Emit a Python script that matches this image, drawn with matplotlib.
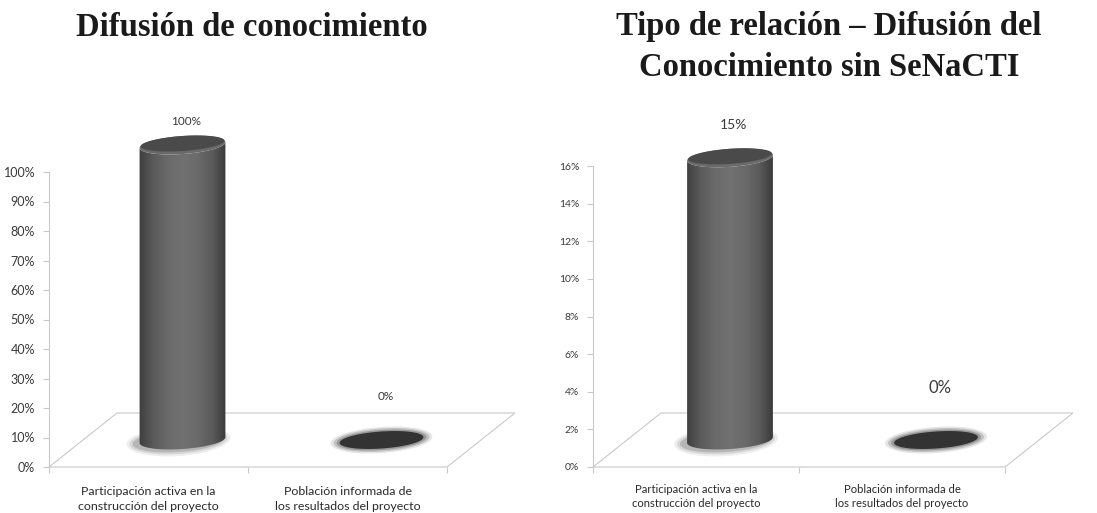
import numpy as np
import matplotlib.pyplot as plt
from matplotlib.colors import LinearSegmentedColormap
from matplotlib.patches import Polygon
from matplotlib.ticker import FuncFormatter, MultipleLocator, FixedLocator

# categories and values for both panels
categorias = ['Participación activa en la\nconstrucción del proyecto',
              'Población informada de\nlos resultados del proyecto']
difusion = [1.00, 0.00]
relacion_sin_senacti = [0.15, 0.00]

titulo_izq = 'Difusión de conocimiento'
titulo_der = 'Tipo de relación – Difusión del\nConocimiento sin SeNaCTI'

W, H = 1097, 513
fig = plt.figure(figsize=(W / 100, H / 100), dpi=100)
plt.rcParams['font.family'] = ['Lato', 'DejaVu Sans']

GRID = '#c9c9c9'
DEPTH = (68, 54)  # floor depth in pixels (right, up)
TILT = 4          # slight tilt of the ellipses, degrees

body_cmap = LinearSegmentedColormap.from_list(
    'cil', ['#3c3c3c', '#5a5a5a', '#6a6a6a', '#717171', '#6a6a6a', '#5a5a5a', '#363636'])


def panel(box, valores, ymax, ystep, tick_fs, cat_fs, val_fs, label_pad, cat_pad, cat_ls):
    x0, x1, y0, ytop = box
    ax = fig.add_axes([x0 / W, (H - y0) / H, (x1 - x0) / W, (y0 - ytop) / H])
    n = len(valores)
    ax.set_xlim(0, n)
    ax.set_ylim(0, ymax)
    ax.patch.set_alpha(0)

    ppx = (x1 - x0) / n
    ppy = (y0 - ytop) / ymax
    px = lambda p: p / ppx
    py = lambda p: p / ppy

    def elipse(cx, cy, a, b, t=None):
        # ellipse outline built in pixels, returned in data units
        if t is None:
            t = np.linspace(0, 2 * np.pi, 100)
        ang = np.radians(TILT)
        ex = a * np.cos(t) * np.cos(ang) - b * np.sin(t) * np.sin(ang)
        ey = a * np.cos(t) * np.sin(ang) + b * np.sin(t) * np.cos(ang)
        return np.column_stack([cx + px(ex), cy + py(ey)])

    for s in ['top', 'right', 'bottom']:
        ax.spines[s].set_visible(False)
    ax.spines['left'].set_color(GRID)
    ax.spines['left'].set_linewidth(0.8)

    ax.yaxis.set_major_locator(MultipleLocator(ystep))
    ax.yaxis.set_major_formatter(FuncFormatter(lambda v, _: f'{v * 100:.0f}%'))
    ax.tick_params(axis='y', length=4, width=0.8, color=GRID, labelsize=tick_fs,
                   labelcolor='#3a3a3a', pad=6)

    ax.set_xticks([i + 0.5 for i in range(n)])
    ax.set_xticklabels(categorias, fontsize=cat_fs, color='#2a2a2a', linespacing=cat_ls)
    ax.xaxis.set_minor_locator(FixedLocator(range(n + 1)))
    ax.tick_params(axis='x', which='major', length=0, pad=cat_pad)
    ax.tick_params(axis='x', which='minor', length=4, width=0.8, color=GRID)

    # floor of the 3D plot
    ddx, ddy = px(DEPTH[0]), py(DEPTH[1])
    ax.add_patch(Polygon([(0, 0), (n, 0), (n + ddx, ddy), (ddx, ddy)], closed=True,
                         fill=False, ec=GRID, lw=0.8, clip_on=False, zorder=1))

    a_px, b_px = 43, 9
    for i, v in enumerate(valores):
        cx = i + 0.5 + ddx / 2
        cy = ddy / 2
        top = cy + v
        if v > 0:
            # soft shadow at the base
            for k, al in enumerate([0.10, 0.16, 0.26]):
                ax.add_patch(Polygon(elipse(cx - px(4), cy - py(1), a_px + 9 - 3 * k,
                                            b_px + 6 - 2 * k),
                                     fc='#5c5c5c', ec='none', alpha=al, zorder=2, clip_on=False))
            t = np.linspace(np.pi, 2 * np.pi, 60)
            low = elipse(cx, cy, a_px, b_px, t)
            high = elipse(cx, top, a_px, b_px, t)[::-1]
            body = Polygon(np.vstack([low, high]), closed=True, fc='none', ec='none', zorder=3)
            ax.add_patch(body)
            grad = np.linspace(0, 1, 200).reshape(1, -1)
            im = ax.imshow(grad, cmap=body_cmap, aspect='auto', zorder=3,
                           extent=[cx - px(a_px + 2), cx + px(a_px + 2),
                                   cy - py(b_px + 6), top + py(b_px + 6)],
                           interpolation='bilinear')
            im.set_clip_box(fig.bbox)
            im.set_clip_path(body)
            ax.add_patch(Polygon(elipse(cx, top, a_px, b_px), fc='#6a6a6a', ec='none',
                                 zorder=4, clip_on=False))
            ax.add_patch(Polygon(elipse(cx, top + py(1.5), a_px - 1, b_px - 1.5),
                                 fc='#4a4a4a', ec='none', zorder=4, clip_on=False))
        else:
            for k, al in enumerate([0.18, 0.3, 0.5]):
                ax.add_patch(Polygon(elipse(cx, cy, a_px + 8 - 3 * k, b_px + 4 - 1.5 * k),
                                     fc='#707070', ec='none', alpha=al, zorder=2, clip_on=False))
            ax.add_patch(Polygon(elipse(cx, cy, a_px - 1, b_px - 0.5), fc='#333333',
                                 ec='none', zorder=4, clip_on=False))
        ax.text(cx + px(4), top + py(label_pad[i]), f'{v * 100:.0f}%', ha='center',
                va='center', fontsize=val_fs[i], color='#3a3a3a', zorder=5, clip_on=False)

    ax.set_xlim(0, n)
    ax.set_ylim(0, ymax)
    return ax


panel((49, 447, 467, 172), difusion, 1.0, 0.1, 9, 8.95, [8.5, 8.5],
      label_pad=[23, 43], cat_pad=14, cat_ls=1.35)
panel((593, 1005, 467, 166), relacion_sin_senacti, 0.16, 0.02, 7.5, 8.1, [10, 12],
      label_pad=[33, 52], cat_pad=12, cat_ls=1.4)

fig.text(252 / W, 1 - 28 / H, titulo_izq, ha='center', va='center',
         fontsize=23.5, fontweight='bold', family='Liberation Serif', color='#1a1a1a')
fig.text(829 / W, 1 - 47 / H, titulo_der, ha='center', va='center',
         fontsize=23.5, fontweight='bold', family='Liberation Serif', color='#1a1a1a',
         linespacing=1.4)

fig.savefig('out.png', dpi=100)
